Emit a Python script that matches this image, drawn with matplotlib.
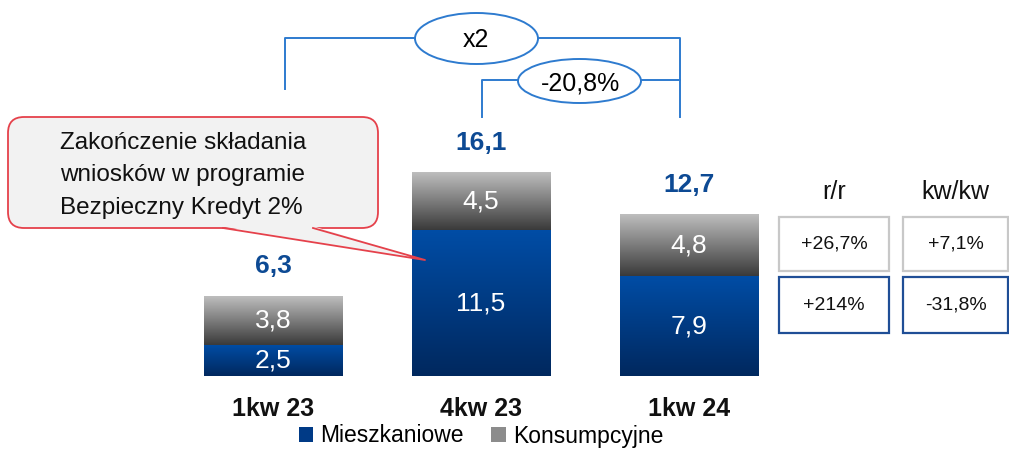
import numpy as np
import matplotlib
matplotlib.use('Agg')
import matplotlib.pyplot as plt
from matplotlib.colors import LinearSegmentedColormap
from matplotlib.patches import Rectangle, Ellipse, FancyBboxPatch, Polygon, Patch
from matplotlib.transforms import Affine2D

plt.rcParams['font.family'] = ['Liberation Sans', 'DejaVu Sans']

# data
categories    = ['1kw 23', '4kw 23', '1kw 24']
mieszkaniowe  = [2.5, 11.5, 7.9]
konsumpcyjne  = [3.8, 4.5, 4.8]
totals        = [6.3, 16.1, 12.7]
series_names  = ['Mieszkaniowe', 'Konsumpcyjne']
col_headers   = ['r/r', 'kw/kw']
change_rows   = [['+26,7%', '+7,1%'], ['+214%', '-31,8%']]
callout_lines = ['Zakończenie składania', 'wniosków w programie', 'Bezpieczny Kredyt 2%']
bracket_labels = ['x2', '-20,8%']

W, H = 1009, 449
fig = plt.figure(figsize=(W / 100, H / 100), dpi=100)
ax = fig.add_axes([0, 0, 1, 1])
ax.axis('off')

# pixel coords (origin top-left) for the decorations
px = Affine2D().scale(1 / W, -1 / H).translate(0, 1) + fig.transFigure

blue_cm = LinearSegmentedColormap.from_list('blue', ['#00285E', '#004DA6'])
gray_cm = LinearSegmentedColormap.from_list('gray', ['#3A3A3A', '#BEBEBE'])
grad = np.linspace(0, 1, 256).reshape(-1, 1)

def fmt(v):
    return f'{v:.1f}'.replace('.', ',')

width   = 0.668
xs      = np.arange(len(categories))
bottoms = np.zeros(len(categories))
for vals, cm in [(mieszkaniowe, blue_cm), (konsumpcyjne, gray_cm)]:
    for xi, b, v in zip(xs, bottoms, vals):
        ax.imshow(grad, extent=(xi - width / 2, xi + width / 2, b, b + v),
                  origin='lower', cmap=cm, aspect='auto', zorder=2)
        ax.text(xi, b + v / 2, fmt(v), ha='center', va='center',
                color='white', fontsize=19, zorder=3)
    bottoms += np.array(vals)

for xi, top, t in zip(xs, bottoms, totals):
    ax.annotate(fmt(t), (xi, top), xytext=(0, 21.6), textcoords='offset points',
                ha='center', va='center', fontsize=19, fontweight='bold',
                color='#0D4A94')

scale = 12.72   # px per unit
for xi, c in zip(xs, categories):
    ax.text(xi, -33 / scale, c, ha='center', va='center', fontsize=18,
            fontweight='bold', color='#111111')

ax.set_xlim(-273 / 208, (W - 273) / 208)
ax.set_ylim(-(H - 376.5) / scale, 376.5 / scale)

# legend
handles = [Patch(facecolor='#003A86'), Patch(facecolor='#8C8C8C')]
fig.legend(handles, series_names, loc='center', bbox_to_anchor=(481 / W, 1 - 436 / H),
           ncol=2, frameon=False, fontsize=16.5, handlelength=0.65, handleheight=0.65,
           handletextpad=0.3, columnspacing=1.2, borderpad=0)

# brackets with ellipses
bc = '#2E7BCF'
ax.plot([285, 285, 415], [89, 38, 38], color=bc, lw=1.4, transform=px)
ax.plot([538, 680, 680], [38, 38, 117], color=bc, lw=1.4, transform=px)
ax.plot([482, 482, 518], [117, 80, 80], color=bc, lw=1.4, transform=px)
ax.plot([641, 680], [80, 80], color=bc, lw=1.4, transform=px)
ax.add_patch(Ellipse((476.5, 38.5), 123, 51, transform=px, facecolor='white',
                     edgecolor=bc, lw=1.4))
ax.add_patch(Ellipse((579.5, 81), 123, 44, transform=px, facecolor='white',
                     edgecolor=bc, lw=1.4))
ax.text(476, 40, bracket_labels[0], transform=px, ha='center', va='center', fontsize=18)
ax.text(580, 83, bracket_labels[1], transform=px, ha='center', va='center', fontsize=18)

# callout
rc = '#E5414B'
ax.add_patch(FancyBboxPatch((8, 117), 370, 111, boxstyle='round,pad=0,rounding_size=16',
                            transform=px, facecolor='#F2F2F2', edgecolor=rc, lw=1.3,
                            zorder=4))
ax.add_patch(Polygon([(222, 226.5), (314, 226.5), (425, 260)], closed=True,
                     transform=px, facecolor='#F2F2F2', edgecolor='none', zorder=5))
ax.plot([223, 425, 313], [228, 260, 228], color=rc, lw=1.3, transform=px, zorder=6)
for i, line in enumerate(callout_lines):
    ax.text(60, 143 + i * 32.5, line, transform=px, ha='left', va='center',
            fontsize=17.5, color='#111111', zorder=7)

# change boxes
col_x = [779, 903]
col_w = [110, 105]
row_y = [217, 277]
row_h = [54, 56]
row_c = ['#C8C8C8', '#1F4E96']
for j, hdr in enumerate(col_headers):
    ax.text(col_x[j] + col_w[j] / 2, 192, hdr, transform=px, ha='center',
            va='center', fontsize=18, color='#111111')
    for i in range(len(change_rows)):
        ax.add_patch(Rectangle((col_x[j], row_y[i]), col_w[j], row_h[i], transform=px,
                               facecolor='white', edgecolor=row_c[i], lw=1.6))
        ax.text(col_x[j] + col_w[j] / 2, row_y[i] + row_h[i] / 2, change_rows[i][j],
                transform=px, ha='center', va='center', fontsize=14, color='#111111')

fig.savefig('out.png', dpi=100)
